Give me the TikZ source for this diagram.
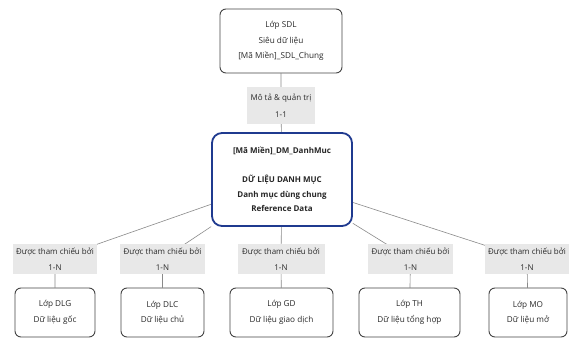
\documentclass[tikz,border=0pt]{standalone}
\usepackage{fontspec}
\setmainfont{Open Sans}
\usetikzlibrary{backgrounds}
\definecolor{boxline}{HTML}{444444}
\definecolor{dmblue}{HTML}{1F3A8F}
\definecolor{lblgray}{HTML}{E8E8E8}
\definecolor{edgegray}{HTML}{8A8A8A}
\definecolor{txt}{HTML}{2A2A2A}
\tikzset{
  layerbox/.style={draw=boxline, line width=0.9pt, rounded corners=6pt, fill=white, align=center,
    text=txt, font=\fontsize{8.2}{15.5}\selectfont, inner sep=0pt},
  dmbox/.style={draw=dmblue, line width=1.8pt, rounded corners=10pt, fill=white, align=center,
    text=black!85, font=\bfseries\fontsize{8}{14.5}\selectfont, inner sep=0pt},
  elabel/.style={fill=lblgray, align=center, text=txt, font=\fontsize{8}{16.5}\selectfont, inner sep=0pt},
  edge/.style={draw=edgegray, line width=0.6pt}
}
\begin{document}
\begin{tikzpicture}[x=1pt,y=-1pt]
\useasboundingbox (0,0) rectangle (576,350);
\node[layerbox, minimum width=122pt, minimum height=64pt] (sdl) at (281,41)
  {Lớp SDL\\Siêu dữ liệu\\{[}Mã Miền]\_SDL\_Chung};
\node[elabel, minimum width=68pt, minimum height=37pt] (l0) at (281,105.5)
  {Mô tả \& quản trị\\1-1};
\node[dmbox, minimum width=140pt, minimum height=93pt] (dm) at (282,179.5)
  {{[}Mã Miền]\_DM\_DanhMuc\\[14.5pt]DỮ LIỆU DANH MỤC\\Danh mục dùng chung\\Reference Data};
\node[elabel, minimum width=84pt, minimum height=30pt] (l1) at (55,259) {Được tham chiếu bởi\\1-N};
\node[elabel, minimum width=85pt, minimum height=30pt] (l2) at (162.5,259) {Được tham chiếu bởi\\1-N};
\node[elabel, minimum width=87pt, minimum height=30pt] (l3) at (281,259) {Được tham chiếu bởi\\1-N};
\node[elabel, minimum width=85pt, minimum height=30pt] (l4) at (410.5,259) {Được tham chiếu bởi\\1-N};
\node[elabel, minimum width=84pt, minimum height=30pt] (l5) at (527,259) {Được tham chiếu bởi\\1-N};
\node[layerbox, minimum width=80pt, minimum height=49pt] (b1) at (55,312.5) {Lớp DLG\\Dữ liệu gốc};
\node[layerbox, minimum width=83pt, minimum height=49pt] (b2) at (162.5,312.5) {Lớp DLC\\Dữ liệu chủ};
\node[layerbox, minimum width=103pt, minimum height=49pt] (b3) at (281.5,312.5) {Lớp GD\\Dữ liệu giao dịch};
\node[layerbox, minimum width=101pt, minimum height=49pt] (b4) at (409.5,312.5) {Lớp TH\\Dữ liệu tổng hợp};
\node[layerbox, minimum width=78pt, minimum height=49pt] (b5) at (528,312.5) {Lớp MO\\Dữ liệu mở};
\begin{pgfonlayer}{background}
\fill[white] (0,0) rectangle (576,350);
\draw[edge] (sdl) -- (l0.center) -- (dm);
\draw[edge] (dm) -- (l1.center) -- (b1);
\draw[edge] (dm) -- (l2.center) -- (b2);
\draw[edge] (dm) -- (l3.center) -- (b3);
\draw[edge] (dm) -- (l4.center) -- (b4);
\draw[edge] (dm) -- (l5.center) -- (b5);
\end{pgfonlayer}
\end{tikzpicture}
\end{document}
